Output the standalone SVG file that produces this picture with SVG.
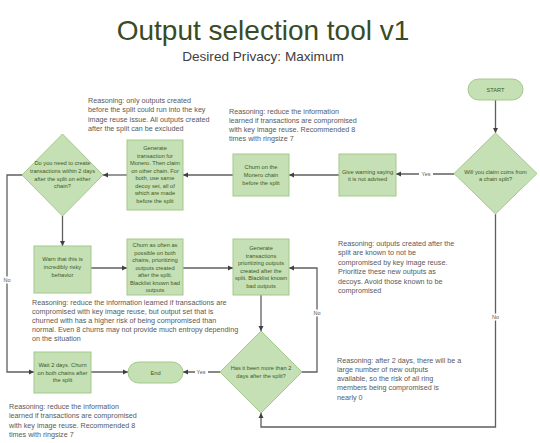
<svg xmlns="http://www.w3.org/2000/svg" width="540" height="443" viewBox="0 0 540 443">
<style>
.title{font-family:"Liberation Sans",Arial,sans-serif;font-size:28px;fill:#394b24}
.sub{font-family:"Liberation Sans",Arial,sans-serif;font-size:13.6px;fill:#404040}
.shape{fill:#c5e0b4;stroke:#a3c98a;stroke-width:1}
.nt{font-family:"Liberation Sans",Arial,sans-serif;font-size:5.7px;fill:#3d5a27;text-anchor:middle}
.rs{font-family:"Liberation Sans",Arial,sans-serif;font-size:7.2px;fill:#595959}
.cn{fill:none;stroke:#5f5f5f;stroke-width:1.3}
.lb{font-family:"Liberation Sans",Arial,sans-serif;font-size:5.5px;fill:#595959;text-anchor:middle}
.lbg{fill:#ffffff}
</style>
<defs>
<marker id="ah" viewBox="0 0 10 10" refX="10" refY="5" markerWidth="4" markerHeight="4" orient="auto" markerUnits="strokeWidth">
<path d="M0,0 L10,5 L0,10 z" fill="#404040"/>
</marker>
</defs>
<rect width="540" height="443" fill="#ffffff"/>
<text class="title" x="263" y="40" text-anchor="middle">Output selection tool v1</text>
<text class="sub" x="263" y="61" text-anchor="middle">Desired Privacy: Maximum</text>

<g id="reasoning">
<text class="rs" x="88" y="102.5">Reasoning: only outputs created</text>
<text class="rs" x="88" y="112">before the split could run into the key</text>
<text class="rs" x="88" y="121.5">image reuse issue. All outputs created</text>
<text class="rs" x="88" y="130.5">after the split can be excluded</text>
<text class="rs" x="229" y="113.5">Reasoning: reduce the information</text>
<text class="rs" x="229" y="122.5">learned if transactions are compromised</text>
<text class="rs" x="229" y="131.5">with key image reuse. Recommended 8</text>
<text class="rs" x="229" y="140.5">times with ringsize 7</text>
<text class="rs" x="32" y="304.5">Reasoning: reduce the information learned if transactions are</text>
<text class="rs" x="32" y="313.5">compromised with key image reuse, but output set that is</text>
<text class="rs" x="32" y="322.5">churned with has a higher risk of being compromised than</text>
<text class="rs" x="32" y="331.5">normal. Even 8 churns may not provide much entropy depending</text>
<text class="rs" x="32" y="341">on the situation</text>
<text class="rs" x="338" y="245.5">Reasoning: outputs created after the</text>
<text class="rs" x="338" y="255">split are known to not be</text>
<text class="rs" x="338" y="264.5">compromised by key image reuse.</text>
<text class="rs" x="338" y="274">Prioritize these new outputs as</text>
<text class="rs" x="338" y="283.5">decoys. Avoid those known to be</text>
<text class="rs" x="338" y="292.5">compromised</text>
<text class="rs" x="9" y="408.5">Reasoning: reduce the information</text>
<text class="rs" x="9" y="418">learned if transactions are compromised</text>
<text class="rs" x="9" y="427.5">with key image reuse. Recommended 8</text>
<text class="rs" x="9" y="436.5">times with ringsize 7</text>
<text class="rs" x="337" y="362.5">Reasoning: after 2 days, there will be a</text>
<text class="rs" x="337" y="371.5">large number of new outputs</text>
<text class="rs" x="337" y="381">available, so the risk of all ring</text>
<text class="rs" x="337" y="390">members being compromised is</text>
<text class="rs" x="337" y="399.5">nearly 0</text>
</g>

<g id="connectors">
<path class="cn" d="M495.5,100 V133" marker-end="url(#ah)"/>
<path class="cn" d="M454,174 H396" marker-end="url(#ah)"/>
<path class="cn" d="M339,175 H289" marker-end="url(#ah)"/>
<path class="cn" d="M233,175 H183" marker-end="url(#ah)"/>
<path class="cn" d="M127,175 H103" marker-end="url(#ah)"/>
<path class="cn" d="M62.5,216 V246" marker-end="url(#ah)"/>
<path class="cn" d="M91,268 H127" marker-end="url(#ah)"/>
<path class="cn" d="M183,268 H233" marker-end="url(#ah)"/>
<path class="cn" d="M261,295 V331" marker-end="url(#ah)"/>
<path class="cn" d="M302,372 H317 V268 H289" marker-end="url(#ah)"/>
<path class="cn" d="M220,372 H183" marker-end="url(#ah)"/>
<path class="cn" d="M91,372 H128" marker-end="url(#ah)"/>
<path class="cn" d="M22,175 H7 V372 H34" marker-end="url(#ah)"/>
<path class="cn" d="M495.5,214 V427 H261 V413" marker-end="url(#ah)"/>
<rect class="lbg" x="419" y="170.5" width="14" height="7"/>
<text class="lb" x="426" y="176">Yes</text>
<rect class="lbg" x="195" y="368.5" width="13" height="7"/>
<text class="lb" x="201" y="374">Yes</text>
<rect class="lbg" x="312" y="309.5" width="10" height="7"/>
<text class="lb" x="317" y="315">No</text>
<rect class="lbg" x="2" y="276.5" width="10" height="7"/>
<text class="lb" x="7" y="282">No</text>
<rect class="lbg" x="490.5" y="313.5" width="10" height="7"/>
<text class="lb" x="495.5" y="319">No</text>
</g>

<g id="start">
<rect class="shape" x="468" y="79" width="55" height="21" rx="10.5"/>
<text class="nt" x="495.5" y="91.5">START</text>
</g>
<g id="claim-split">
<polygon class="shape" points="495.5,133 537,173.5 495.5,214 454,173.5"/>
<text class="nt" x="495.5" y="173.5">Will you claim coins from</text>
<text class="nt" x="495.5" y="180.5">a chain split?</text>
</g>
<g id="give-warning">
<rect class="shape" x="339" y="154" width="57" height="42"/>
<text class="nt" x="367.5" y="174">Give warning saying</text>
<text class="nt" x="367.5" y="181">it is not advised</text>
</g>
<g id="churn-monero">
<rect class="shape" x="233" y="154" width="56" height="42"/>
<text class="nt" x="261" y="169">Churn on the</text>
<text class="nt" x="261" y="177">Monero chain</text>
<text class="nt" x="261" y="185">before the split</text>
</g>
<g id="generate-monero">
<rect class="shape" x="127" y="140" width="56" height="70"/>
<text class="nt" x="155" y="150">Generate</text>
<text class="nt" x="155" y="157.5">transaction for</text>
<text class="nt" x="155" y="165">Monero. Then claim</text>
<text class="nt" x="155" y="172.5">on other chain. For</text>
<text class="nt" x="155" y="180">both, use same</text>
<text class="nt" x="155" y="187.5">decoy set, all of</text>
<text class="nt" x="155" y="195">which are made</text>
<text class="nt" x="155" y="202.5">before the split</text>
</g>
<g id="need-2-days">
<polygon class="shape" points="62.5,134 103,175 62.5,216 22,175"/>
<text class="nt" x="62.5" y="165">Do you need to create</text>
<text class="nt" x="62.5" y="173">transactions within 2 days</text>
<text class="nt" x="62.5" y="180.5">after the split on either</text>
<text class="nt" x="62.5" y="188">chain?</text>
</g>
<g id="warn-risky">
<rect class="shape" x="34" y="246" width="57" height="47"/>
<text class="nt" x="62.5" y="261">Warn that this is</text>
<text class="nt" x="62.5" y="269">incredibly risky</text>
<text class="nt" x="62.5" y="276.5">behavior</text>
</g>
<g id="churn-often">
<rect class="shape" x="127" y="239" width="56" height="56"/>
<text class="nt" x="155" y="247">Churn as often as</text>
<text class="nt" x="155" y="254.5">possible on both</text>
<text class="nt" x="155" y="262">chains, prioritizing</text>
<text class="nt" x="155" y="269.5">outputs created</text>
<text class="nt" x="155" y="277">after the split.</text>
<text class="nt" x="155" y="284.5">Blacklist known bad</text>
<text class="nt" x="155" y="292">outputs</text>
</g>
<g id="generate-prioritizing">
<rect class="shape" x="233" y="239" width="56" height="56"/>
<text class="nt" x="261" y="250">Generate</text>
<text class="nt" x="261" y="257.5">transactions</text>
<text class="nt" x="261" y="265">prioritizing outputs</text>
<text class="nt" x="261" y="272.5">created after the</text>
<text class="nt" x="261" y="280">split. Blacklist known</text>
<text class="nt" x="261" y="287.5">bad outputs</text>
</g>
<g id="more-than-2-days">
<polygon class="shape" points="261,331 302,372 261,413 220,372"/>
<text class="nt" x="261" y="370">Has it been more than 2</text>
<text class="nt" x="261" y="377.5">days after the split?</text>
</g>
<g id="end">
<rect class="shape" x="128" y="362" width="55" height="21" rx="10.5"/>
<text class="nt" x="155.5" y="374.5">End</text>
</g>
<g id="wait-2-days">
<rect class="shape" x="34" y="352" width="57" height="41"/>
<text class="nt" x="62.5" y="367">Wait 2 days. Churn</text>
<text class="nt" x="62.5" y="374.5">on both chains after</text>
<text class="nt" x="62.5" y="382">the split</text>
</g>
</svg>
